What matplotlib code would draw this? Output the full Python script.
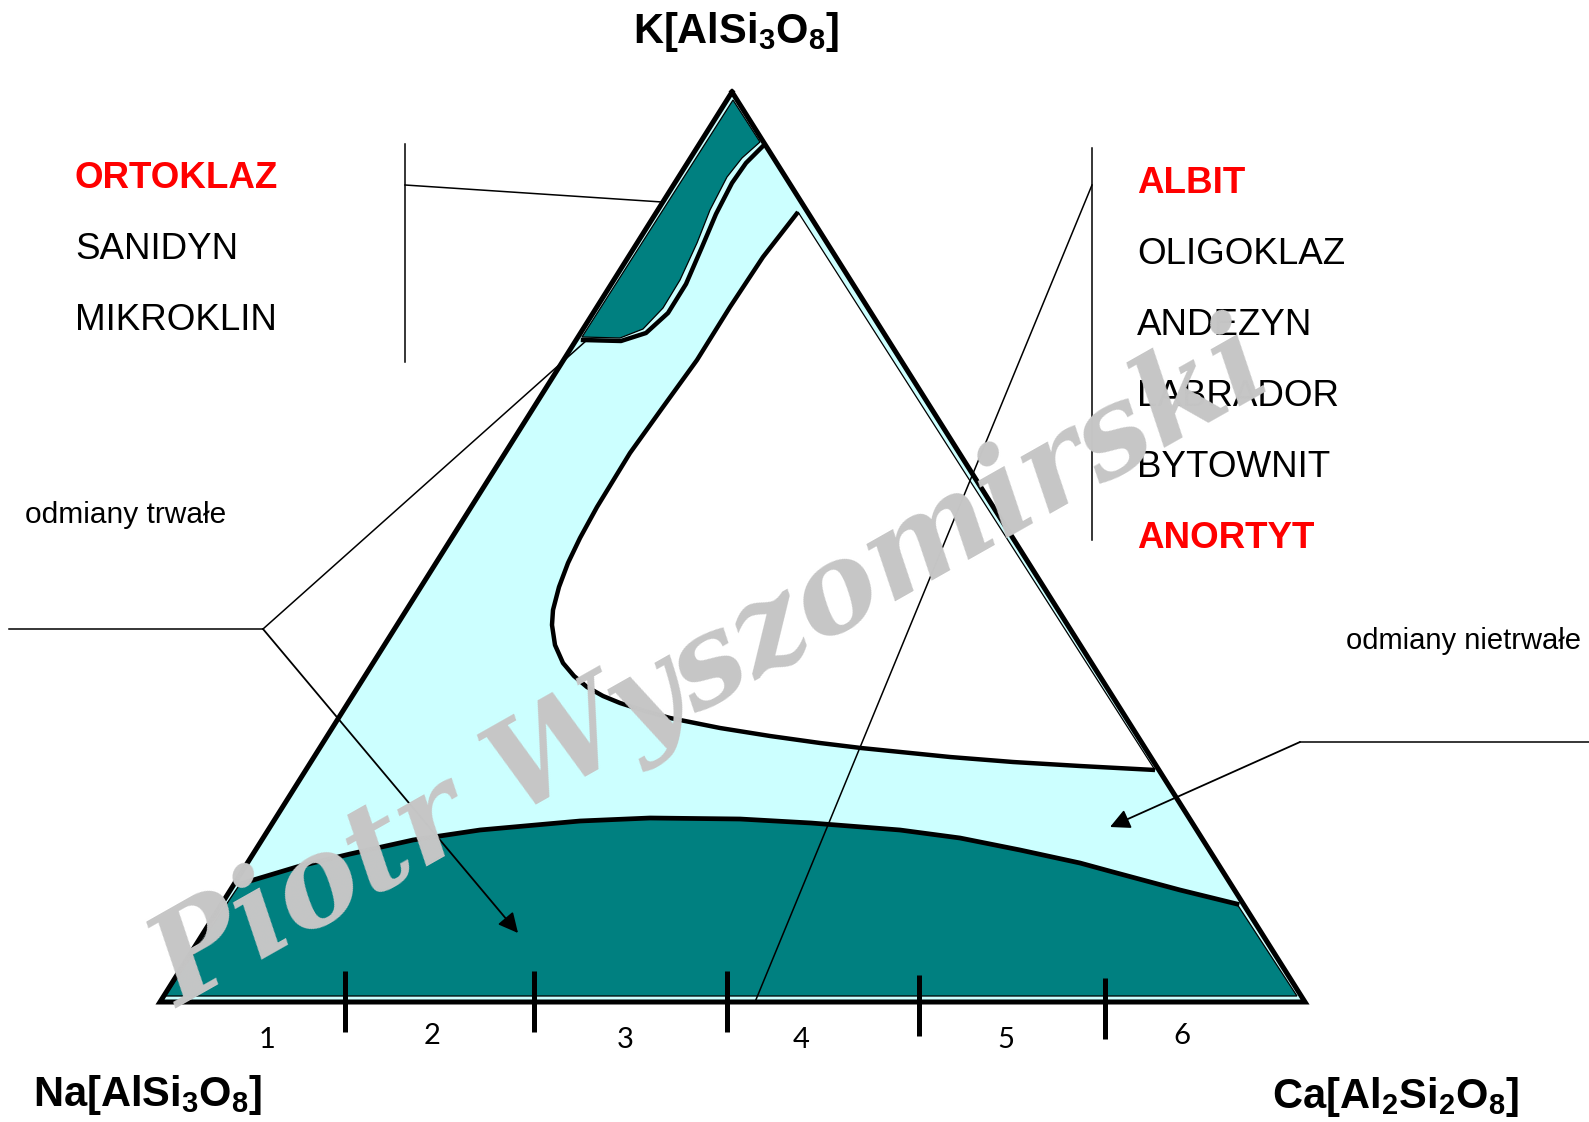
import numpy as np
import matplotlib
matplotlib.use("Agg")
import matplotlib.pyplot as plt
from matplotlib.patches import Polygon

plt.rcParams['font.family'] = ['Liberation Sans', 'DejaVu Sans']
plt.rcParams['mathtext.fontset'] = 'custom'
plt.rcParams['mathtext.rm'] = 'Liberation Sans:bold'
plt.rcParams['mathtext.it'] = 'Liberation Sans:bold'
plt.rcParams['mathtext.bf'] = 'Liberation Sans:bold'
plt.rcParams['mathtext.default'] = 'rm'

# --- diagram data (pixel space of the 1589x1122 figure, y down) ---
triangle = [(732, 92), (160, 1002), (1305, 1002)]   # K, Na, Ca corners

# white (unstable field) boundary: upper branch then lower branch
white_upper = [(798, 212), (763, 257), (730, 307), (697, 360), (663, 407), (630, 453),
               (597, 507), (580, 538), (568, 563), (559, 587), (553, 610)]
white_lower = [(552, 625), (555, 645), (563, 663), (574, 676), (587, 687), (603, 696),
               (620, 703), (645, 711), (670, 718), (720, 728), (770, 736), (820, 743),
               (861, 748), (950, 757), (1013, 762), (1080, 766), (1155, 770)]

# orthoclase (K) teal field
k_field = [(733, 100), (582, 337), (620, 338), (643, 329), (663, 308), (680, 280),
           (697, 243), (710, 210), (727, 177), (742, 158), (760, 142)]
k_curve = [(583, 340), (621, 341), (646, 333), (668, 313), (686, 284), (702, 247),
           (716, 214), (732, 183), (746, 163), (763, 146)]

# plagioclase teal field upper boundary
pl_curve = [(240, 884), (300, 866), (350, 854), (413, 840), (480, 830), (580, 821),
            (650, 818), (740, 819), (811, 823), (900, 830), (960, 838), (1020, 850),
            (1080, 863), (1113, 872), (1180, 890), (1237, 904)]

tick_x = [345, 534, 727, 919, 1105]
tick_top = [971, 971, 971, 975, 978]
tick_bot = [1032, 1032, 1032, 1036, 1039]
range_labels = ["1", "2", "3", "4", "5", "6"]
range_x = [267, 432, 625, 801, 1006, 1182]
range_y = [1040, 1036, 1040, 1040, 1040, 1036]

k_names = ["ORTOKLAZ", "SANIDYN", "MIKROKLIN"]
k_colors = ["red", "black", "black"]
k_bold = [True, False, False]
k_y = [178, 249, 320]

pl_names = ["ALBIT", "OLIGOKLAZ", "ANDEZYN", "LABRADOR", "BYTOWNIT", "ANORTYT"]
pl_colors = ["red", "black", "black", "black", "black", "red"]
pl_bold = [True, False, False, False, False, True]
pl_y = [183, 254, 325, 396, 467, 538]

TEAL = "#008080"
CYAN = "#CCFFFF"

fig = plt.figure(figsize=(15.89, 11.22), dpi=100)
ax = fig.add_axes([0, 0, 1, 1])
ax.set_xlim(0, 1589)
ax.set_ylim(1122, 0)
ax.axis('off')

# fields
ax.add_patch(Polygon(triangle, closed=True, facecolor=CYAN, edgecolor='none', zorder=1))
ax.add_patch(Polygon(white_upper + white_lower, closed=True, facecolor='white',
                     edgecolor='black', lw=0.9, zorder=2))
ax.add_patch(Polygon(k_field, closed=True, facecolor=TEAL, edgecolor='black', lw=0.9, zorder=3))
pl_field = pl_curve + [(1297, 996), (165, 996)]
ax.add_patch(Polygon(pl_field, closed=True, facecolor=TEAL, edgecolor='black', lw=0.9, zorder=3))

# thick field boundaries
wx, wy = zip(*(white_upper + white_lower))
ax.plot(wx, wy, color='black', lw=3.2, solid_capstyle='butt', solid_joinstyle='round', zorder=4)
kx, ky = zip(*k_curve)
ax.plot(kx, ky, color='black', lw=3.2, solid_joinstyle='round', zorder=4)
px, py = zip(*pl_curve)
ax.plot(px, py, color='black', lw=3.4, solid_joinstyle='round', zorder=4)

# triangle outline
tx, ty = zip(*(triangle + [triangle[0]]))
ax.plot(tx, ty, color='black', lw=3.6, solid_joinstyle='miter', zorder=5)

# composition ranges on the base
for x, t, b in zip(tick_x, tick_top, tick_bot):
    ax.plot([x, x], [t, b], color='black', lw=3.6, solid_capstyle='butt', zorder=6)
for lab, x, y in zip(range_labels, range_x, range_y):
    ax.text(x, y, lab, fontsize=21, family='Lato', ha='center', va='center')

# leader lines
ax.plot([405, 405], [144, 362], color='black', lw=1.1)
ax.plot([405, 662], [185, 202], color='black', lw=1.1, zorder=6)
ax.plot([1092, 1092], [148, 540], color='black', lw=1.1)
ax.plot([1092, 755], [185, 1002], color='black', lw=1.1, zorder=6)
ax.plot([9, 263], [629, 629], color='black', lw=1.1)
ax.plot([263, 587], [629, 340], color='black', lw=1.1, zorder=6)
ax.annotate("", xy=(518, 933), xytext=(263, 629),
            arrowprops=dict(arrowstyle='-|>', color='black', lw=1.3, mutation_scale=30,
                            shrinkA=0, shrinkB=0), zorder=6)
ax.plot([1300, 1589], [742, 742], color='black', lw=1.1)
ax.annotate("", xy=(1110, 827), xytext=(1300, 742),
            arrowprops=dict(arrowstyle='-|>', color='black', lw=1.3, mutation_scale=30,
                            shrinkA=0, shrinkB=0), zorder=6)

# labels
for name, c, b, y in zip(k_names, k_colors, k_bold, k_y):
    ax.text(75, y, name, color=c, fontsize=26.5, fontweight='bold' if b else 'normal',
            ha='left', va='center')
for name, c, b, y in zip(pl_names, pl_colors, pl_bold, pl_y):
    ax.text(1137, y, name, color=c, fontsize=26.5, fontweight='bold' if b else 'normal',
            ha='left', va='center')

ax.text(25, 515, "odmiany trwałe", fontsize=21.5, ha='left', va='center')
ax.text(1346, 641, "odmiany nietrwałe", fontsize=21, ha='left', va='center')

ax.text(736, 32, r"K[AlSi$_3$O$_8$]", fontsize=30, fontweight='bold', ha='center', va='center')
ax.text(33, 1095, r"Na[AlSi$_3$O$_8$]", fontsize=30, fontweight='bold', ha='left', va='center')
ax.text(1272, 1097, r"Ca[Al$_2$Si$_2$O$_8$]", fontsize=30, fontweight='bold', ha='left', va='center')

# watermark
ax.text(712, 668, "Piotr Wyszomirski", fontsize=89, family='DejaVu Serif', style='italic',
        fontweight='bold', color='#C6C6C6', rotation=29.5, rotation_mode='anchor',
        ha='center', va='center', zorder=10)

fig.savefig("out.png", dpi=100)
